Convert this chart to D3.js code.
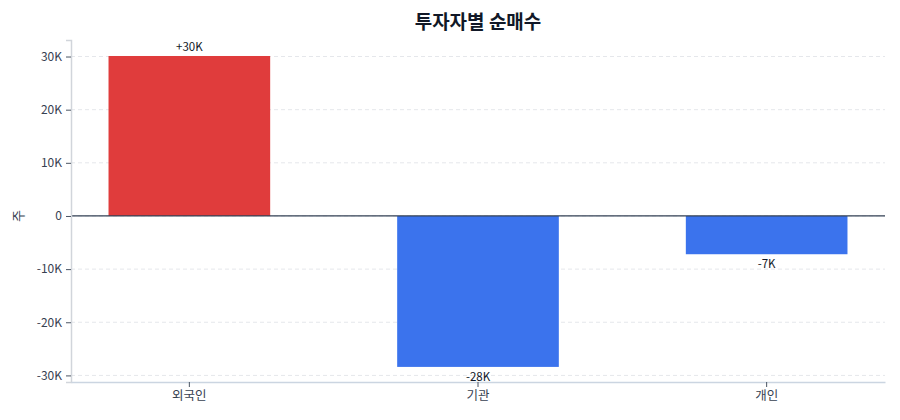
<!DOCTYPE html>
<html>
<head>
<meta charset="utf-8">
<script src="https://cdn.jsdelivr.net/npm/d3@7"></script>
<style>
  body { margin: 0; background: #fff; }
  svg { font-family: "Noto Sans CJK KR", "Noto Sans", sans-serif; }
</style>
</head>
<body>
<svg></svg>
<script>
const width = 900;
const height = 420;

// 투자자별 순매수 (주)
const investors = ['외국인', '기관', '개인'];
const netBuy = [30100, -28400, -7200];
const yTicks = [-30000, -20000, -10000, 0, 10000, 20000, 30000];

const margin = { top: 40, right: 15, bottom: 38, left: 71 };

const fmtK = v => v === 0 ? '0' : `${v / 1000}K`;
const fmtLabel = v => (v > 0 ? '+' : '-') + Math.round(Math.abs(v) / 1000) + 'K';

const renderChart = () => {
    const svg = d3.select('svg')
        .attr('width', width)
        .attr('height', height);

    const x = d3.scaleBand()
        .domain(investors)
        .range([margin.left, width - margin.right])
        .paddingInner(0.44)
        .paddingOuter(0.13);

    const y = d3.scaleLinear()
        .domain([d3.min(netBuy) * 1.1, d3.max(netBuy) * 1.1])
        .range([height - margin.bottom, margin.top]);

    // grid
    svg.append('g')
        .selectAll('line')
        .data(yTicks)
        .enter().append('line')
        .attr('x1', margin.left)
        .attr('x2', width - margin.right)
        .attr('y1', d => y(d))
        .attr('y2', d => y(d))
        .style('stroke', '#e5e7eb')
        .style('stroke-dasharray', '4,3');

    // bars
    svg.append('g')
        .selectAll('rect')
        .data(netBuy)
        .enter().append('rect')
        .attr('x', (d, i) => x(investors[i]))
        .attr('width', x.bandwidth())
        .attr('y', d => y(Math.max(0, d)))
        .attr('height', d => Math.abs(y(d) - y(0)))
        .style('fill', d => d >= 0 ? '#e03c3c' : '#3b73ed');

    // zero line
    svg.append('line')
        .attr('x1', margin.left)
        .attr('x2', width - margin.right)
        .attr('y1', y(0))
        .attr('y2', y(0))
        .style('stroke', '#334155')
        .style('stroke-width', 1.3);

    // value labels
    svg.append('g')
        .selectAll('text')
        .data(netBuy)
        .enter().append('text')
        .attr('x', (d, i) => x(investors[i]) + x.bandwidth() / 2)
        .attr('y', d => d >= 0 ? y(d) - 5 : y(d) + 14)
        .attr('text-anchor', 'middle')
        .style('font-size', '11.5px')
        .style('fill', '#111827')
        .text(d => fmtLabel(d));

    // y axis
    const yAxis = svg.append('g')
        .attr('transform', `translate(${margin.left},0)`)
        .call(d3.axisLeft(y).tickValues(yTicks).tickFormat(fmtK).tickSize(5).tickPadding(4));
    yAxis.select('.domain').style('stroke', '#d1d5db').style('stroke-width', 1.5);
    yAxis.selectAll('.tick line').style('stroke', '#4b5563');
    yAxis.selectAll('.tick text').style('font-size', '12px').style('fill', '#374151')
        .style('font-family', '"Noto Sans CJK KR", sans-serif');

    // x axis
    const xAxis = svg.append('g')
        .attr('transform', `translate(0,${height - margin.bottom})`)
        .call(d3.axisBottom(x).tickSize(5).tickPadding(4).tickSizeOuter(0));
    xAxis.select('.domain').style('stroke', '#cbd5e1').style('stroke-width', 1.5);
    xAxis.selectAll('.tick line').style('stroke', '#4b5563');
    xAxis.selectAll('.tick text').style('font-size', '12.5px').style('fill', '#374151')
        .style('font-family', '"Noto Sans CJK KR", sans-serif');

    // y label
    svg.append('text')
        .attr('transform', `translate(23,${y(0)}) rotate(-90)`)
        .attr('text-anchor', 'middle')
        .style('font-size', '13px')
        .style('fill', '#374151')
        .text('주');

    // title
    svg.append('text')
        .attr('x', (margin.left + width - margin.right) / 2)
        .attr('y', 29)
        .attr('text-anchor', 'middle')
        .style('font-size', '19px')
        .style('font-weight', 'bold')
        .style('fill', '#111827')
        .text('투자자별 순매수');
};

document.addEventListener('DOMContentLoaded', () => {
    renderChart();
});
</script>
</body>
</html>
